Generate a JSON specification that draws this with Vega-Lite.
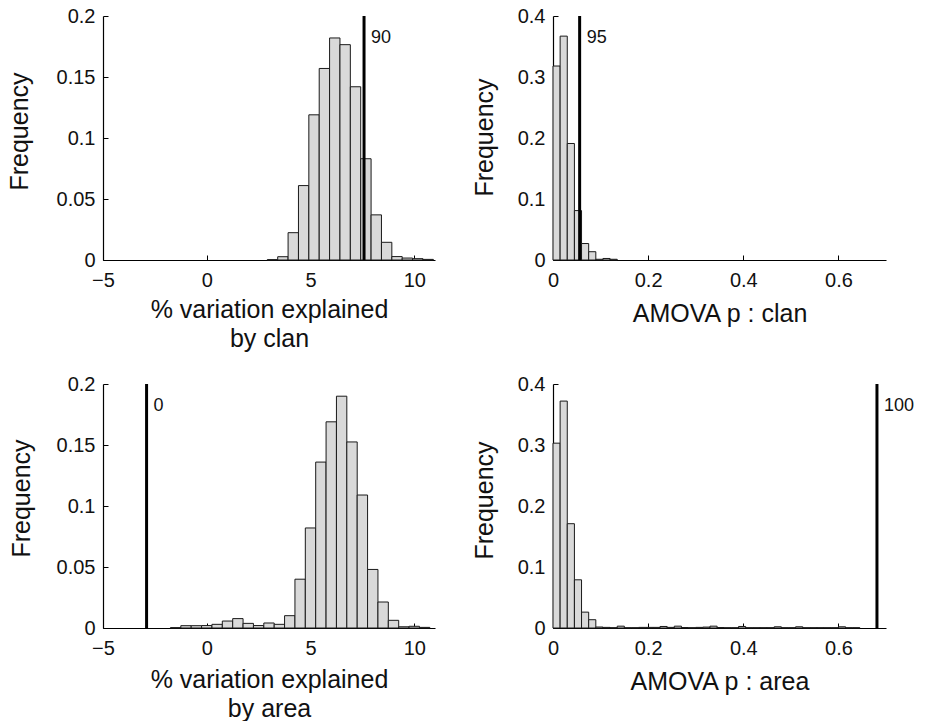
{
  "$schema": "https://vega.github.io/schema/vega-lite/v6.json",
  "autosize": {"type": "pad"},
  "padding": {"left": 6, "top": 6, "right": 5, "bottom": 0},
  "background": "white",
  "config": {
    "font": "Liberation Sans",
    "view": {"stroke": null},
    "axis": {
      "grid": false,
      "domainColor": "#000",
      "domainWidth": 1.2,
      "tickColor": "#000",
      "tickWidth": 1,
      "tickSize": -5,
      "labelFontSize": 20,
      "labelColor": "#111",
      "titleFontSize": 25,
      "titleFontWeight": "normal",
      "titleColor": "#111",
      "labelFlush": false,
      "labelOverlap": false,
      "format": "~r"
    },
    "axisX": {"labelPadding": 15, "titleBaseline": "alphabetic", "titleLineHeight": 29},
    "axisY": {"labelPadding": 13, "titleBaseline": "bottom"}
  },
  "datasets": {
    "p1": [
      {"start": 2.92, "end": 3.42, "freq": 0.0003},
      {"start": 3.42, "end": 3.92, "freq": 0.0027},
      {"start": 3.92, "end": 4.42, "freq": 0.0224},
      {"start": 4.42, "end": 4.92, "freq": 0.061},
      {"start": 4.92, "end": 5.42, "freq": 0.119},
      {"start": 5.42, "end": 5.92, "freq": 0.157},
      {"start": 5.92, "end": 6.42, "freq": 0.182},
      {"start": 6.42, "end": 6.92, "freq": 0.1765},
      {"start": 6.92, "end": 7.42, "freq": 0.142},
      {"start": 7.42, "end": 7.92, "freq": 0.083},
      {"start": 7.92, "end": 8.42, "freq": 0.037},
      {"start": 8.42, "end": 8.92, "freq": 0.0145},
      {"start": 8.92, "end": 9.42, "freq": 0.0028},
      {"start": 9.42, "end": 9.92, "freq": 0.0016},
      {"start": 9.92, "end": 10.42, "freq": 0.0011},
      {"start": 10.42, "end": 10.92, "freq": 0.0005}
    ],
    "l1": [{"value": 7.58, "label": "90"}],
    "p2": [
      {"start": 0, "end": 0.015, "freq": 0.318},
      {"start": 0.015, "end": 0.03, "freq": 0.367},
      {"start": 0.03, "end": 0.045, "freq": 0.191},
      {"start": 0.045, "end": 0.06, "freq": 0.081},
      {"start": 0.06, "end": 0.075, "freq": 0.027},
      {"start": 0.075, "end": 0.09, "freq": 0.0136},
      {"start": 0.09, "end": 0.105, "freq": 0.0012},
      {"start": 0.105, "end": 0.12, "freq": 0.0025},
      {"start": 0.12, "end": 0.135, "freq": 0.0012}
    ],
    "l2": [{"value": 0.056, "label": "95"}],
    "p3": [
      {"start": -1.75, "end": -1.25, "freq": 0.0003},
      {"start": -1.25, "end": -0.75, "freq": 0.0019},
      {"start": -0.75, "end": -0.25, "freq": 0.0019},
      {"start": -0.25, "end": 0.25, "freq": 0.002},
      {"start": 0.25, "end": 0.75, "freq": 0.003},
      {"start": 0.75, "end": 1.25, "freq": 0.0057},
      {"start": 1.25, "end": 1.75, "freq": 0.0077},
      {"start": 1.75, "end": 2.25, "freq": 0.0038},
      {"start": 2.25, "end": 2.75, "freq": 0.002},
      {"start": 2.75, "end": 3.25, "freq": 0.0041},
      {"start": 3.25, "end": 3.75, "freq": 0.003},
      {"start": 3.75, "end": 4.25, "freq": 0.0101},
      {"start": 4.25, "end": 4.75, "freq": 0.040},
      {"start": 4.75, "end": 5.25, "freq": 0.082},
      {"start": 5.25, "end": 5.75, "freq": 0.136},
      {"start": 5.75, "end": 6.25, "freq": 0.169},
      {"start": 6.25, "end": 6.75, "freq": 0.190},
      {"start": 6.75, "end": 7.25, "freq": 0.1525},
      {"start": 7.25, "end": 7.75, "freq": 0.109},
      {"start": 7.75, "end": 8.25, "freq": 0.048},
      {"start": 8.25, "end": 8.75, "freq": 0.0213},
      {"start": 8.75, "end": 9.25, "freq": 0.0063},
      {"start": 9.25, "end": 9.75, "freq": 0.001},
      {"start": 9.75, "end": 10.25, "freq": 0.0014},
      {"start": 10.25, "end": 10.75, "freq": 0.0005}
    ],
    "l3": [{"value": -2.9, "label": "0"}],
    "p4": [
      {"start": 0, "end": 0.015, "freq": 0.303},
      {"start": 0.015, "end": 0.03, "freq": 0.372},
      {"start": 0.03, "end": 0.045, "freq": 0.171},
      {"start": 0.045, "end": 0.06, "freq": 0.079},
      {"start": 0.06, "end": 0.075, "freq": 0.026},
      {"start": 0.075, "end": 0.09, "freq": 0.0136},
      {"start": 0.09, "end": 0.105, "freq": 0.0016},
      {"start": 0.105, "end": 0.12, "freq": 0.001},
      {"start": 0.12, "end": 0.135, "freq": 0.0005},
      {"start": 0.135, "end": 0.15, "freq": 0.003},
      {"start": 0.15, "end": 0.165, "freq": 0.0005},
      {"start": 0.165, "end": 0.18, "freq": 0.0005},
      {"start": 0.18, "end": 0.195, "freq": 0.001},
      {"start": 0.195, "end": 0.21, "freq": 0.001},
      {"start": 0.21, "end": 0.225, "freq": 0.001},
      {"start": 0.225, "end": 0.24, "freq": 0.0025},
      {"start": 0.24, "end": 0.255, "freq": 0.001},
      {"start": 0.255, "end": 0.27, "freq": 0.003},
      {"start": 0.27, "end": 0.285, "freq": 0.0008},
      {"start": 0.285, "end": 0.3, "freq": 0.0005},
      {"start": 0.3, "end": 0.315, "freq": 0.001},
      {"start": 0.315, "end": 0.33, "freq": 0.0015},
      {"start": 0.33, "end": 0.345, "freq": 0.003},
      {"start": 0.345, "end": 0.36, "freq": 0.0008},
      {"start": 0.36, "end": 0.375, "freq": 0.0005},
      {"start": 0.375, "end": 0.39, "freq": 0.0005},
      {"start": 0.39, "end": 0.405, "freq": 0.0025},
      {"start": 0.405, "end": 0.42, "freq": 0.0005},
      {"start": 0.42, "end": 0.435, "freq": 0.0005},
      {"start": 0.435, "end": 0.45, "freq": 0.0005},
      {"start": 0.45, "end": 0.465, "freq": 0.0005},
      {"start": 0.465, "end": 0.48, "freq": 0.002},
      {"start": 0.48, "end": 0.495, "freq": 0.0005},
      {"start": 0.495, "end": 0.51, "freq": 0.0005},
      {"start": 0.51, "end": 0.525, "freq": 0.002},
      {"start": 0.525, "end": 0.54, "freq": 0.0005},
      {"start": 0.54, "end": 0.555, "freq": 0.0005},
      {"start": 0.555, "end": 0.57, "freq": 0.0005},
      {"start": 0.57, "end": 0.585, "freq": 0.0005},
      {"start": 0.585, "end": 0.6, "freq": 0.0005},
      {"start": 0.6, "end": 0.615, "freq": 0.002},
      {"start": 0.615, "end": 0.63, "freq": 0.0005},
      {"start": 0.63, "end": 0.645, "freq": 0.0005}
    ],
    "l4": [{"value": 0.681, "label": "100"}]
  },
  "columns": 2,
  "bounds": "flush",
  "spacing": {"row": 124, "column": 118},
  "concat": [
    {
      "width": 332, "height": 244,
      "layer": [
        {
          "data": {"name": "p1"},
          "mark": {"type": "bar", "fill": "#d9d9d9", "stroke": "#1a1a1a", "strokeWidth": 1},
          "encoding": {
            "x": {"field": "start", "type": "quantitative", "scale": {"domain": [-5, 11], "nice": false, "zero": false},
                  "axis": {"values": [-5, 0, 5, 10], "title": ["% variation explained", "by clan"], "titleY": 57}},
            "x2": {"field": "end"},
            "y": {"field": "freq", "type": "quantitative", "scale": {"domain": [0, 0.2], "nice": false},
                  "axis": {"values": [0, 0.05, 0.1, 0.15, 0.2], "title": "Frequency", "titleX": -71, "titleY": 115}},
            "y2": {"datum": 0}
          }
        },
        {
          "data": {"name": "l1"},
          "mark": {"type": "rule", "color": "#000", "strokeWidth": 3},
          "encoding": {"x": {"field": "value", "type": "quantitative"}}
        },
        {
          "data": {"name": "l1"},
          "mark": {"type": "text", "align": "left", "baseline": "alphabetic", "dx": 7, "fontSize": 18, "color": "#111"},
          "encoding": {"x": {"field": "value", "type": "quantitative"}, "y": {"datum": 0.178, "type": "quantitative"}, "text": {"field": "label"}}
        }
      ]
    },
    {
      "width": 333, "height": 244,
      "layer": [
        {
          "data": {"name": "p2"},
          "mark": {"type": "bar", "fill": "#d9d9d9", "stroke": "#1a1a1a", "strokeWidth": 1},
          "encoding": {
            "x": {"field": "start", "type": "quantitative", "scale": {"domain": [0, 0.7], "nice": false},
                  "axis": {"values": [0, 0.2, 0.4, 0.6], "title": "AMOVA p : clan", "titleY": 61}},
            "x2": {"field": "end"},
            "y": {"field": "freq", "type": "quantitative", "scale": {"domain": [0, 0.4], "nice": false},
                  "axis": {"values": [0, 0.1, 0.2, 0.3, 0.4], "title": "Frequency", "titleX": -56, "titleY": 121}},
            "y2": {"datum": 0}
          }
        },
        {
          "data": {"name": "l2"},
          "mark": {"type": "rule", "color": "#000", "strokeWidth": 3},
          "encoding": {"x": {"field": "value", "type": "quantitative"}}
        },
        {
          "data": {"name": "l2"},
          "mark": {"type": "text", "align": "left", "baseline": "alphabetic", "dx": 7, "fontSize": 18, "color": "#111"},
          "encoding": {"x": {"field": "value", "type": "quantitative"}, "y": {"datum": 0.356, "type": "quantitative"}, "text": {"field": "label"}}
        }
      ]
    },
    {
      "width": 332, "height": 244,
      "layer": [
        {
          "data": {"name": "p3"},
          "mark": {"type": "bar", "fill": "#d9d9d9", "stroke": "#1a1a1a", "strokeWidth": 1},
          "encoding": {
            "x": {"field": "start", "type": "quantitative", "scale": {"domain": [-5, 11], "nice": false, "zero": false},
                  "axis": {"values": [-5, 0, 5, 10], "title": ["% variation explained", "by area"], "titleY": 59}},
            "x2": {"field": "end"},
            "y": {"field": "freq", "type": "quantitative", "scale": {"domain": [0, 0.2], "nice": false},
                  "axis": {"values": [0, 0.05, 0.1, 0.15, 0.2], "title": "Frequency", "titleX": -69, "titleY": 114}},
            "y2": {"datum": 0}
          }
        },
        {
          "data": {"name": "l3"},
          "mark": {"type": "rule", "color": "#000", "strokeWidth": 3},
          "encoding": {"x": {"field": "value", "type": "quantitative"}}
        },
        {
          "data": {"name": "l3"},
          "mark": {"type": "text", "align": "left", "baseline": "alphabetic", "dx": 7, "fontSize": 18, "color": "#111"},
          "encoding": {"x": {"field": "value", "type": "quantitative"}, "y": {"datum": 0.178, "type": "quantitative"}, "text": {"field": "label"}}
        }
      ]
    },
    {
      "width": 333, "height": 244,
      "layer": [
        {
          "data": {"name": "p4"},
          "mark": {"type": "bar", "fill": "#d9d9d9", "stroke": "#1a1a1a", "strokeWidth": 1},
          "encoding": {
            "x": {"field": "start", "type": "quantitative", "scale": {"domain": [0, 0.7], "nice": false},
                  "axis": {"values": [0, 0.2, 0.4, 0.6], "title": "AMOVA p : area", "titleY": 61}},
            "x2": {"field": "end"},
            "y": {"field": "freq", "type": "quantitative", "scale": {"domain": [0, 0.4], "nice": false},
                  "axis": {"values": [0, 0.1, 0.2, 0.3, 0.4], "title": "Frequency", "titleX": -56, "titleY": 116}},
            "y2": {"datum": 0}
          }
        },
        {
          "data": {"name": "l4"},
          "mark": {"type": "rule", "color": "#000", "strokeWidth": 3},
          "encoding": {"x": {"field": "value", "type": "quantitative"}}
        },
        {
          "data": {"name": "l4"},
          "mark": {"type": "text", "align": "left", "baseline": "alphabetic", "dx": 7, "fontSize": 18, "color": "#111"},
          "encoding": {"x": {"field": "value", "type": "quantitative"}, "y": {"datum": 0.356, "type": "quantitative"}, "text": {"field": "label"}}
        }
      ]
    }
  ]
}
